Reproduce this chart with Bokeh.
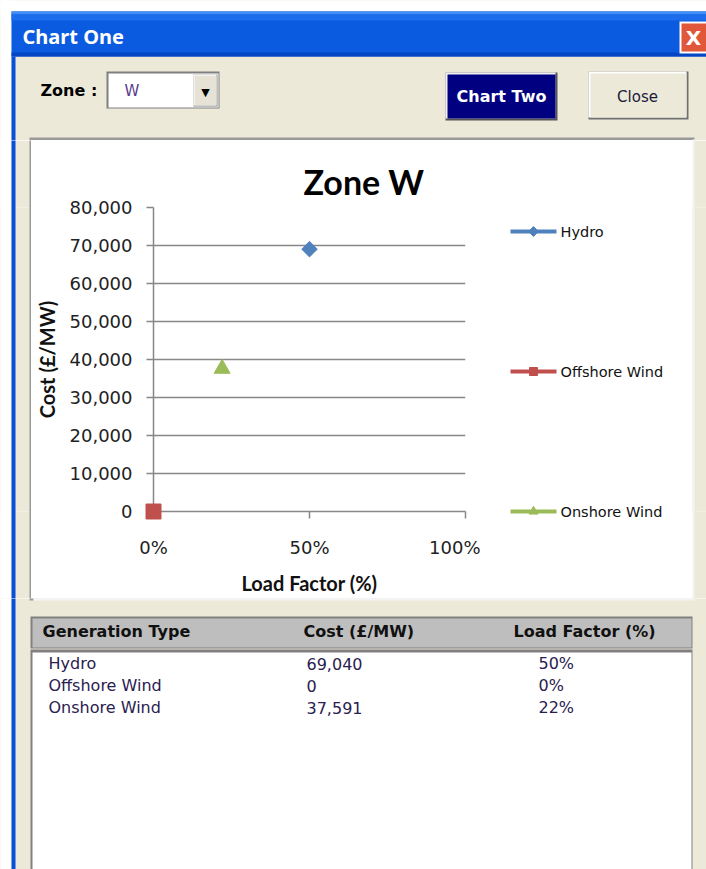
from bokeh.plotting import figure
from bokeh.layouts import column, row
from bokeh.models import Range1d, FixedTicker, NumeralTickFormatter
from bokeh.core.properties import value
from bokeh.embed import file_html
from bokeh.resources import INLINE

# ---------------- data ----------------
series = ["Hydro", "Offshore Wind", "Onshore Wind"]
load_factor = [0.50, 0.00, 0.22]          # fraction
cost = [69040, 0, 37591]                  # GBP / MW
cost_labels = ["69,040", "0", "37,591"]
lf_labels = ["50%", "0%", "22%"]
colors = ["#4F81BD", "#C0504D", "#9BBB59"]
markers = ["square", "square", "triangle"]
marker_angles = [0.785398, 0.0, 0.0]
marker_sizes = [11, 15, 16]
x_ticks = [0.0, 0.5, 1.0]
y_ticks = [0, 10000, 20000, 30000, 40000, 50000, 60000, 70000, 80000]
table_headers = ["Generation Type", "Cost (£/MW)", "Load Factor (%)"]
zone = "W"

BEIGE = "#ECE9D8"
GRAY = "#878787"
TXT = "#2A2050"

# layout (page pixels)
MID_T, MID_B = 140, 598          # middle row (chart panel)
FR_T, FR_B = 207, 511            # chart frame top / bottom
CX0, FR_L, FR_R, CX1 = 31, 152, 465, 480


def deco(x0, y0, x1, y1, bg=BEIGE):
    f = figure(width=x1 - x0, height=y1 - y0, output_backend="svg",
               toolbar_location=None, x_axis_type=None, y_axis_type=None,
               x_range=Range1d(x0, x1), y_range=Range1d(y1, y0),
               min_border=0)
    f.outline_line_color = None
    f.background_fill_color = bg
    f.border_fill_color = bg
    f.grid.visible = False
    return f


def mid_deco(x0, x1, bg):
    # same frame borders as the chart (plots in a row share frame alignment)
    f = figure(width=x1 - x0, height=MID_B - MID_T, output_backend="svg",
               toolbar_location=None, x_axis_type=None, y_axis_type=None,
               x_range=Range1d(x0, x1), y_range=Range1d(FR_B, FR_T),
               min_border_left=0, min_border_right=0,
               min_border_top=FR_T - MID_T, min_border_bottom=MID_B - FR_B)
    f.outline_line_color = None
    f.background_fill_color = bg
    f.border_fill_color = bg
    f.grid.visible = False
    return f


def box(f, x0, y0, x1, y1, color):
    r = f.quad(left=[x0], right=[x1], top=[y0], bottom=[y1], fill_color=color,
               line_color=None)
    r.level = "overlay"


def txt(f, x, y, s, size="16px", color="#000000", bold=False, align="left",
        font="DejaVu Sans"):
    r = f.text(x=[x], y=[y], text=[s], text_font=value(font), text_font_size=value(size),
               text_color=color, text_font_style="bold" if bold else "normal",
               text_align=align, text_baseline="middle")
    r.level = "overlay"


# ---------------- top strip: title bar, zone selector, buttons ----------------
top = deco(0, 0, 706, MID_T)
box(top, 0, 0, 706, 11, "#FFFFFF")
box(top, 0, 0, 11, MID_T, "#FFFFFF")
box(top, 11, 11, 706, 56, "#0A5BE0")
box(top, 11, 11, 706, 14, "#3F8EF6")
box(top, 11, 14, 706, 20, "#1C6CEB")
box(top, 11, 52, 706, 56, "#0546C4")
box(top, 11, 56, 15, MID_T, "#0A4FD8")
txt(top, 22, 36, "Chart One", size="20px", color="#FFFFFF", bold=True, font="Noto Sans")
box(top, 679, 21, 706, 53, "#FFFFFF")
box(top, 681, 23, 706, 51, "#E0573A")
txt(top, 693, 37, "X", size="20px", color="#FFFFFF", bold=True, align="center")

txt(top, 40, 90, "Zone :", size="16px", bold=True)
box(top, 106, 71, 219, 108, "#7F7F7F")
box(top, 108, 73, 218, 107, "#FFFFFF")
txt(top, 124, 90, zone, size="15px", color="#5A3C90")
box(top, 193, 74, 217, 106, "#808080")
box(top, 193, 74, 216, 105, "#FFFFFF")
box(top, 194, 75, 216, 105, "#E6E3D6")
txt(top, 205, 92, "\u25BC", size="11px", color="#000000", align="center")

box(top, 445, 72, 557, 120, "#555555")
box(top, 445, 72, 555, 118, "#F2F2F2")
box(top, 447, 74, 555, 118, "#000080")
txt(top, 501, 96, "Chart Two", size="16px", color="#FFFFFF", bold=True, align="center")
box(top, 588, 71, 688, 119, "#707070")
box(top, 588, 71, 686, 117, "#FFFFFF")
box(top, 590, 73, 686, 117, BEIGE)
txt(top, 637, 96, "Close", size="15px", color="#1A1A3A", align="center")

box(top, 29, 137, 694, MID_T, "#9A9A9A")
box(top, 692, 139, 694, MID_T, "#F4F4F4")

# ---------------- side strips ----------------
left = mid_deco(0, CX0, BEIGE)
box(left, 0, MID_T, 11, MID_B, "#FFFFFF")
box(left, 11, MID_T, 15, MID_B, "#0A4FD8")
box(left, 29, MID_T, CX0, MID_B, "#9A9A9A")

right = mid_deco(692, 706, BEIGE)
box(right, 692, MID_T, 694, MID_B, "#F4F4F4")

# ---------------- chart ----------------
p = figure(width=CX1 - CX0, height=MID_B - MID_T, output_backend="svg",
           toolbar_location=None,
           x_range=Range1d(0, 1), y_range=Range1d(0, 80000),
           min_border_left=FR_L - CX0, min_border_right=CX1 - FR_R,
           min_border_top=FR_T - MID_T, min_border_bottom=MID_B - FR_B)
p.outline_line_color = None
p.background_fill_color = "white"
p.border_fill_color = "white"

p.title.text = "Zone " + zone
p.title.text_font = "Lato"
p.title.text_font_style = "bold"
p.title.text_font_size = "34px"
p.title.text_color = "#000000"
p.title.align = "left"
p.title.offset = 150
p.title.standoff = 12

for ax in (p.xaxis[0], p.yaxis[0]):
    ax.axis_line_color = GRAY
    ax.axis_line_width = 1.5
    ax.major_tick_line_color = GRAY
    ax.major_tick_line_width = 1.5
    ax.major_tick_out = 7
    ax.major_tick_in = 0
    ax.minor_tick_line_color = None
    ax.major_label_text_font = "DejaVu Sans"
    ax.major_label_text_font_size = "18px"
    ax.major_label_text_color = "#222222"
    ax.axis_label_text_font = "Lato"
    ax.axis_label_text_font_style = "bold"
    ax.axis_label_text_font_size = "20px"
    ax.axis_label_text_color = "#111111"

p.xaxis.ticker = FixedTicker(ticks=x_ticks)
p.xaxis.formatter = NumeralTickFormatter(format="0%")
p.xaxis.major_label_standoff = 18
p.xaxis.axis_label = "Load Factor (%)"
p.xaxis.axis_label_standoff = 10

p.yaxis.ticker = FixedTicker(ticks=y_ticks)
p.yaxis.formatter = NumeralTickFormatter(format="0,0")
p.yaxis.major_label_standoff = 14
p.yaxis.axis_label = "Cost (£/MW)"
p.yaxis.axis_label_standoff = 8

p.xgrid.visible = False
p.ygrid.ticker = FixedTicker(ticks=y_ticks)
p.ygrid.grid_line_color = GRAY
p.ygrid.grid_line_width = 1.5

for i, name in enumerate(series):
    sc = p.scatter(x=[load_factor[i]], y=[cost[i]], marker=markers[i],
                   angle=marker_angles[i], size=marker_sizes[i],
                   fill_color=colors[i], line_color=colors[i])
    sc.level = "overlay"

# ---------------- legend panel (to the right of the chart) ----------------
lg = mid_deco(CX1, 692, "white")
legend_y = [231, 371, 511]          # item centres (page px)
for i, name in enumerate(series):
    seg = lg.segment(x0=[510], x1=[556], y0=[legend_y[i]], y1=[legend_y[i]],
                     line_color=colors[i], line_width=4)
    seg.level = "overlay"
    mk = lg.scatter(x=[533], y=[legend_y[i]], marker=markers[i],
                    angle=marker_angles[i], size=[7, 8, 9][i],
                    fill_color=colors[i], line_color=colors[i])
    mk.level = "overlay"
    txt(lg, 560, legend_y[i], name, size="14.5px", color="#111111")

# ---------------- bottom: data table ----------------
bot = deco(0, MID_B, 706, 869)
box(bot, 0, MID_B, 11, 869, "#FFFFFF")
box(bot, 11, MID_B, 15, 869, "#0A4FD8")
box(bot, 29, MID_B, 33, 600, "#9A9A9A")
box(bot, 33, MID_B, 694, 600, "#F4F4F4")
box(bot, 30, 616, 692, 648, "#808080")
box(bot, 32, 618, 691, 647, "#BEBEBE")
col_x = [42, 303, 513]
for j, h in enumerate(table_headers):
    txt(bot, col_x[j], 631, h, size="16px", bold=True, color="#111111")
box(bot, 30, 649, 692, 869, "#808080")
box(bot, 32, 652, 691, 869, "#FFFFFF")
row_y = [663, 685, 707]
for i, name in enumerate(series):
    txt(bot, 48, row_y[i], name, size="16px", color=TXT)
    txt(bot, 306, row_y[i], cost_labels[i], size="16px", color=TXT)
    txt(bot, 538, row_y[i], lf_labels[i], size="16px", color=TXT)

layout = column(top, row(left, p, lg, right), bot)
open("out.html", "w").write(file_html(layout, INLINE))
